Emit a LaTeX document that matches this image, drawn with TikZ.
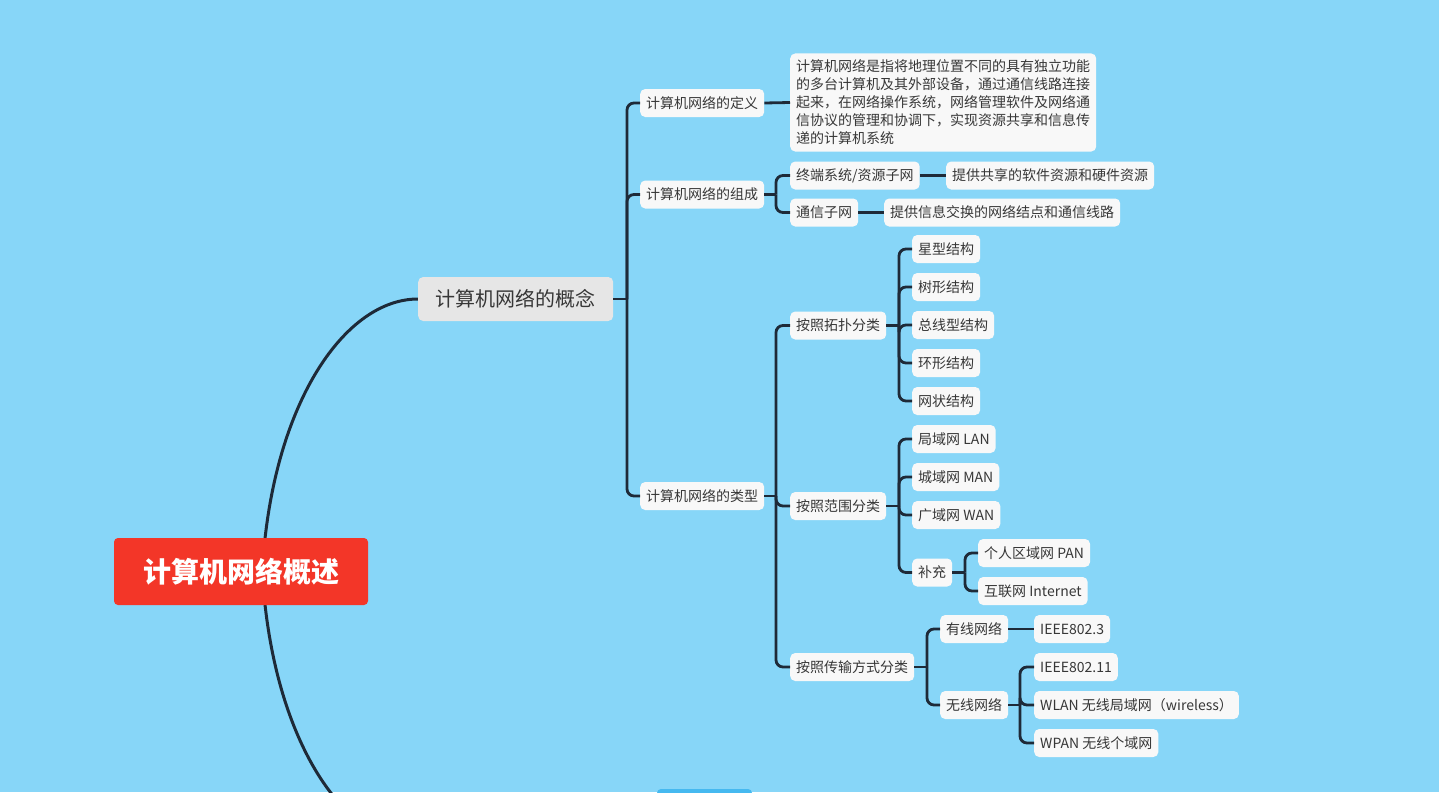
\documentclass[tikz,border=0pt]{standalone}
\usepackage{fontspec}
\setmainfont{Noto Sans CJK SC}
\usetikzlibrary{calc,backgrounds}
\definecolor{bgc}{RGB}{135,214,248}
\definecolor{connc}{RGB}{30,42,56}
\definecolor{boxc}{RGB}{248,248,248}
\definecolor{gboxc}{RGB}{230,230,230}
\definecolor{rootc}{RGB}{243,54,40}
\definecolor{txtc}{RGB}{55,55,55}
\definecolor{cutc}{RGB}{70,185,240}
\begin{document}
\begin{tikzpicture}[x=1pt,y=-1pt,
  leaf/.style={fill=boxc, rounded corners=5pt, text=txtc, font=\fontsize{14}{17}\selectfont,
               inner xsep=6pt, inner ysep=0pt, minimum height=28pt, anchor=west},
  elbow/.style={draw=connc, line width=2.8pt, rounded corners=7pt},
  stub/.style={draw=connc, line width=2.8pt},
  curveline/.style={draw=connc, line width=3pt},
]
\useasboundingbox (0,0) rectangle (1439,792);
\clip (0,0) rectangle (1439,792);

% root and first level
\node[fill=rootc, rounded corners=4pt, text=white, font=\fontsize{28}{32}\selectfont\bfseries,
      minimum width=254pt, minimum height=67pt] (root) at (241,571.5) {计算机网络概述};
\node[fill=gboxc, rounded corners=5pt, text=txtc, font=\fontsize{20}{24}\selectfont,
      minimum width=195pt, minimum height=44pt, anchor=west] (concept) at (418,299) {计算机网络的概念};
\coordinate (lowend) at (417,844);

% second level
\node[leaf] (def) at (640,103) {计算机网络的定义};
\node[leaf] (comp) at (640,194.5) {计算机网络的组成};
\node[leaf] (type) at (640,496) {计算机网络的类型};

\node[leaf, align=left, font=\fontsize{14}{18}\selectfont, inner xsep=6pt, inner ysep=6.5pt] (deftext) at (790,102.5)
 {计算机网络是指将地理位置不同的具有独立功能\\的多台计算机及其外部设备，通过通信线路连接\\起来，在网络操作系统，网络管理软件及网络通\\信协议的管理和协调下，实现资源共享和信息传\\递的计算机系统};

\node[leaf] (term) at (790,175.5) {终端系统/资源子网};
\node[leaf] (sub) at (790,212.5) {通信子网};
\node[leaf] (termd) at (946,175.5) {提供共享的软件资源和硬件资源};
\node[leaf] (subd) at (884,212.5) {提供信息交换的网络结点和通信线路};

\node[leaf] (topo) at (790,325.5) {按照拓扑分类};
\node[leaf] (range) at (790,506) {按照范围分类};
\node[leaf] (trans) at (790,667) {按照传输方式分类};

\node[leaf] (star) at (912,249) {星型结构};
\node[leaf] (tree) at (912,287) {树形结构};
\node[leaf] (bus) at (912,325) {总线型结构};
\node[leaf] (ring) at (912,363) {环形结构};
\node[leaf] (mesh) at (912,401) {网状结构};

\node[leaf] (lan) at (912,439) {局域网 LAN};
\node[leaf] (man) at (912,477) {城域网 MAN};
\node[leaf] (wan) at (912,515) {广域网 WAN};
\node[leaf] (supp) at (912,572.5) {补充};
\node[leaf] (pan) at (978,553) {个人区域网 PAN};
\node[leaf] (inet) at (978,591) {互联网 Internet};

\node[leaf] (wired) at (940,629) {有线网络};
\node[leaf] (wless) at (940,705) {无线网络};
\node[leaf] (ieeea) at (1034,629) {IEEE802.3};
\node[leaf] (ieeeb) at (1034,667) {IEEE802.11};
\node[leaf] (wlan) at (1034,705) {WLAN 无线局域网（wireless）};
\node[leaf] (wpan) at (1034,743) {WPAN 无线个域网};

% background, partially visible node, and curves from the root (behind the nodes)
\begin{pgfonlayer}{background}
\fill[bgc] (0,0) rectangle (1439,792);
\fill[cutc, rounded corners=4pt] (657,789) rectangle (752,815);
\draw[curveline] ($(root.center)+(22,-11.5)$) .. controls ($(root.center)+(34,-171.5)$) and ($(concept.west)+(-72,0)$) .. (concept.west);
\draw[curveline] ($(root.center)+(22,11.5)$) .. controls ($(root.center)+(34,171.5)$) and ($(lowend)+(-72,0)$) .. (lowend);
\end{pgfonlayer}

% junction coordinates
\coordinate (cj) at ([xshift=-13pt]def.west |- concept.east);
\coordinate (compj) at ([xshift=-14pt]term.west |- comp.east);
\coordinate (typej) at ([xshift=-14pt]topo.west |- type.east);
\coordinate (topoj) at ([xshift=-13pt]star.west |- topo.east);
\coordinate (rangej) at ([xshift=-13pt]lan.west |- range.east);
\coordinate (suppj) at ([xshift=-13pt]pan.west |- supp.east);
\coordinate (transj) at ([xshift=-13pt]wired.west |- trans.east);
\coordinate (wlessj) at ([xshift=-14pt]ieeeb.west |- wless.east);

% connectors
\draw[stub] (concept.east) -- (cj);
\foreach \c in {def,comp,type} \draw[elbow] (cj) |- (\c.west);
\draw[stub] (def.east) -- (deftext.west);

\draw[stub] (comp.east) -- (compj);
\foreach \c in {term,sub} \draw[elbow] (compj) |- (\c.west);
\draw[stub] (term.east) -- (termd.west);
\draw[stub] (sub.east) -- (subd.west);

\draw[stub] (type.east) -- (typej);
\foreach \c in {topo,range,trans} \draw[elbow] (typej) |- (\c.west);

\draw[stub] (topo.east) -- (topoj);
\foreach \c in {star,tree,bus,ring,mesh} \draw[elbow] (topoj) |- (\c.west);

\draw[stub] (range.east) -- (rangej);
\foreach \c in {lan,man,wan,supp} \draw[elbow] (rangej) |- (\c.west);
\draw[stub] (supp.east) -- (suppj);
\foreach \c in {pan,inet} \draw[elbow] (suppj) |- (\c.west);

\draw[stub] (trans.east) -- (transj);
\foreach \c in {wired,wless} \draw[elbow] (transj) |- (\c.west);
\draw[stub] (wired.east) -- (ieeea.west);
\draw[stub] (wless.east) -- (wlessj);
\foreach \c in {ieeeb,wlan,wpan} \draw[elbow] (wlessj) |- (\c.west);
\end{tikzpicture}
\end{document}
